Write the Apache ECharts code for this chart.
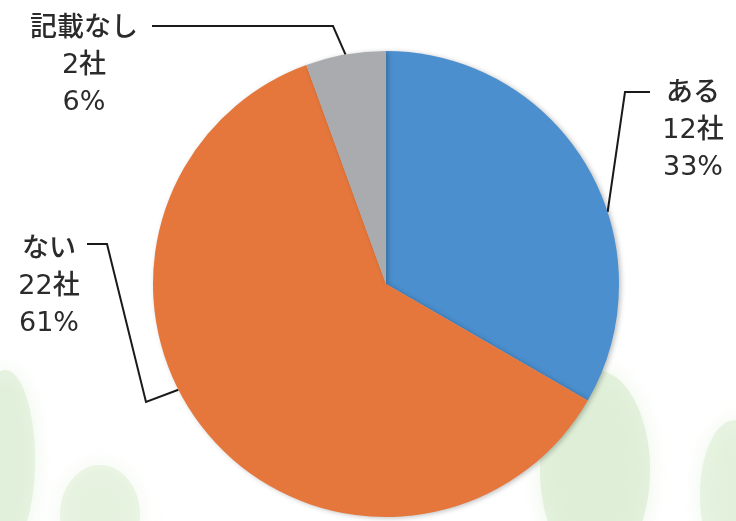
<!DOCTYPE html>
<html>
<head>
<meta charset="utf-8">
<script src="https://cdn.jsdelivr.net/npm/echarts@6/dist/echarts.min.js"></script>
<style>
  html, body { margin: 0; padding: 0; background: #fff; }
</style>
</head>
<body>
<!-- 图表容器 -->
<div id="chart" style="width:736px; height:521px"></div>
<script>
// データ
var names = ["ある", "ない", "記載なし"];
var counts = [12, 22, 2];
var colors = ["#4b8fcf", "#e5773c", "#a9abae"];

// 円の中心と半径 (px)
var cx = 386, cy = 284, R = 233;

// 引き出し線が円に触れる角度 (上から時計回り, 度)
var anchorDeg = [72, 243, 350];

function anchor(i) {
  var a = anchorDeg[i] * Math.PI / 180;
  return [cx + R * Math.sin(a), cy - R * Math.cos(a)];
}

// ラベル位置と引き出し線
var labelPos = [
  { x: 693, y: 75 },
  { x: 49, y: 231 },
  { x: 84, y: 10 }
];
function leader(i) {
  var p = anchor(i);
  if (i === 0) return [p, [625, 92], [650, 92]];
  if (i === 1) return [[87, 244], [107, 244], [146, 402], p];
  return [p, [333, 26], [152, 26]];
}

var myChart = echarts.init(document.getElementById("chart"));

myChart.setOption({
  backgroundColor: "#ffffff",
  animation: false,
  // 背景の葉っぱ (淡い緑)
  graphic: [
    { type: "ellipse", z: -10, shape: { cx: 5, cy: 460, rx: 30, ry: 90 }, style: { fill: "rgba(215,235,205,0.55)", shadowBlur: 20, shadowColor: "rgba(215,235,205,0.8)" } },
    { type: "ellipse", z: -10, shape: { cx: 100, cy: 515, rx: 40, ry: 50 }, style: { fill: "rgba(215,235,205,0.45)", shadowBlur: 20, shadowColor: "rgba(215,235,205,0.8)" } },
    { type: "ellipse", z: -10, shape: { cx: 595, cy: 470, rx: 55, ry: 100 }, style: { fill: "rgba(215,235,205,0.6)", shadowBlur: 20, shadowColor: "rgba(215,235,205,0.8)" } },
    { type: "ellipse", z: -10, shape: { cx: 735, cy: 495, rx: 35, ry: 75 }, style: { fill: "rgba(215,235,205,0.5)", shadowBlur: 20, shadowColor: "rgba(215,235,205,0.8)" } }
  ],
  series: [
    {
      type: "pie",
      center: [cx, cy],
      radius: R,
      startAngle: 90,
      clockwise: true,
      data: names.map(function (n, i) {
        return { name: n, value: counts[i], itemStyle: { color: colors[i] } };
      }),
      itemStyle: {
        borderWidth: 0,
        shadowBlur: 5,
        shadowColor: "rgba(0,0,0,0.25)",
        shadowOffsetX: 2,
        shadowOffsetY: 1
      },
      label: {
        show: true,
        position: "outside",
        formatter: function (p) {
          return p.name + "\n" + p.value + "社\n" + Math.round(p.percent) + "%";
        },
        fontFamily: "'DejaVu Sans', 'Noto Sans CJK JP'",
        fontSize: 27,
        fontWeight: 500,
        lineHeight: 37,
        color: "#2b2b2b",
        align: "center"
      },
      labelLine: {
        show: true,
        lineStyle: { color: "#1a1a1a", width: 2 }
      },
      labelLayout: function (params) {
        var i = params.dataIndex;
        var lp = labelPos[i];
        return {
          x: lp.x,
          y: lp.y,
          align: "center",
          verticalAlign: "top",
          labelLinePoints: leader(i)
        };
      }
    }
  ]
});
</script>
</body>
</html>
